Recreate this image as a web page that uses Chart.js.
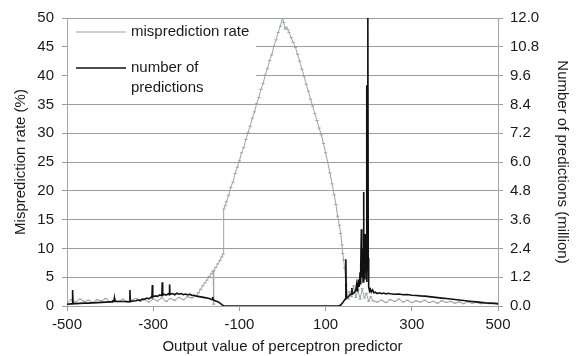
<!DOCTYPE html>
<html>
<head>
<meta charset="utf-8">
<title>Perceptron predictor output</title>
<script src="https://cdn.jsdelivr.net/npm/chart.js@4.4.0/dist/chart.umd.min.js"></script>
<style>
  html, body { margin: 0; padding: 0; background: #fff; }
  #wrap { width: 577px; height: 356px; position: relative; }
</style>
</head>
<body>
<div id="wrap"><canvas id="chart"></canvas></div>
<script>
// Output value of the perceptron vs. misprediction rate (%) and number of predictions (million)

const xTicks = [-500, -300, -100, 100, 300, 500];
const countTicks = [0, 1.2, 2.4, 3.6, 4.8, 6.0, 7.2, 8.4, 9.6, 10.8, 12.0];

const mispX = [
  -500, -490, -480, -470, -460, -450, -440, -430, -420, -410,
  -400, -390, -380, -370, -360, -350, -340, -330, -320, -310,
  -300, -290, -280, -270, -260, -250, -240, -230, -220, -210,
  -200, -195, -190, -185, -180, -175, -170, -165, -161, -160,
  -159, -155, -150, -145, -141, -138, -137, -136, -133, -130,
  -125, -120, -115, -110, -105, -100, -95, -90, -85, -80,
  -75, -70, -65, -60, -55, -50, -45, -40, -35, -30,
  -25, -20, -15, -10, -5, 0, 3, 6, 9, 12,
  15, 20, 25, 30, 35, 40, 45, 50, 55, 60,
  65, 70, 75, 80, 85, 90, 95, 100, 105, 110,
  115, 120, 124, 128, 132, 135, 138, 140, 142, 144,
  146, 148, 150, 153, 156, 160, 165, 170, 175, 180,
  185, 190, 195, 200, 205, 210, 220, 230, 240, 250,
  260, 270, 280, 290, 300, 310, 320, 330, 340, 350,
  360, 370, 380, 390, 400, 410, 420, 430, 440, 450,
  460, 470, 480, 490, 500
];
const mispRate = [
  0.5, 1.1, 0.7, 1.2, 0.8, 1.0, 0.6, 1.1, 0.9, 1.3,
  0.7, 1.0, 0.8, 1.2, 0.6, 1.0, 1.3, 0.8, 1.1, 0.7,
  1.2, 0.9, 1.4, 0.8, 1.3, 1.0, 1.5, 1.1, 1.6, 1.4,
  1.8, 2.3, 2.9, 3.5, 4.0, 4.5, 5.1, 5.6, 6.0, 0.3,
  6.2, 6.7, 7.3, 7.9, 8.5, 9.0, 15.0, 16.8, 17.4, 18.1,
  19.2, 20.6, 21.5, 23.0, 24.1, 25.2, 26.6, 27.5, 28.9, 30.1,
  31.2, 32.6, 33.7, 35.1, 36.2, 37.6, 38.6, 40.1, 41.2, 42.6,
  43.6, 45.1, 46.2, 47.5, 48.6, 50.0, 49.2, 48.1, 48.4, 48.0,
  47.5, 46.6, 45.8, 44.9, 43.7, 42.5, 41.1, 39.9, 38.5, 37.3,
  35.9, 34.7, 33.4, 32.2, 30.9, 29.7, 28.2, 26.6, 24.9, 23.1,
  21.2, 19.3, 17.6, 15.6, 14.0, 12.6, 10.6, 9.1, 8.0, 6.6,
  5.0, 3.6, 2.3, 1.2, 2.5, 1.6, 3.5, 1.5, 2.8, 1.2,
  3.0, 1.4, 2.2, 0.8, 1.6, 0.9, 0.7, 1.0, 0.6, 1.1,
  0.8, 1.2, 0.7, 1.0, 0.6, 0.9, 0.7, 1.0, 0.6, 0.8,
  0.5, 0.9, 0.6, 0.8, 0.5, 0.7, 0.4, 0.7, 0.5, 0.6,
  0.4, 0.6, 0.4, 0.5, 0.3
];

const countX = [
  -500, -490, -488, -487, -486, -480, -470, -460, -450, -440,
  -430, -420, -410, -400, -395, -394, -391, -390, -389, -380,
  -370, -360, -355, -354, -353, -350, -340, -335, -330, -325,
  -320, -315, -310, -305, -303, -302, -301, -295, -290, -285,
  -280, -279, -278, -275, -270, -265, -263, -262, -261, -255,
  -250, -245, -240, -235, -230, -225, -220, -215, -210, -205,
  -200, -190, -180, -170, -163, -162, -161, -155, -150, -145,
  -140, -136, -130, 130, 135, 140, 144, 146, 147, 148,
  152, 156, 160, 161, 162, 166, 170, 172, 174, 176,
  178, 180, 181, 182, 183, 184, 185, 186, 187, 188,
  189, 190, 191, 192, 193, 194, 195, 196, 197, 198,
  199, 200, 202, 204, 206, 209, 212, 215, 220, 225,
  230, 235, 240, 245, 250, 260, 270, 280, 290, 300,
  310, 320, 330, 340, 350, 360, 370, 380, 390, 400,
  410, 420, 430, 440, 450, 460, 470, 480, 490, 500
];
const countM = [
  0.07, 0.09, 0.09, 0.67, 0.10, 0.10, 0.11, 0.12, 0.12, 0.13,
  0.14, 0.15, 0.16, 0.17, 0.17, 0.21, 0.20, 0.33, 0.20, 0.19,
  0.19, 0.19, 0.18, 0.67, 0.18, 0.20, 0.22, 0.25, 0.24, 0.29,
  0.28, 0.33, 0.30, 0.37, 0.35, 0.87, 0.38, 0.42, 0.40, 0.46,
  0.43, 0.99, 0.45, 0.49, 0.45, 0.51, 0.47, 0.90, 0.48, 0.52,
  0.47, 0.53, 0.49, 0.52, 0.47, 0.50, 0.46, 0.49, 0.44, 0.45,
  0.41, 0.38, 0.35, 0.31, 0.26, 0.38, 0.25, 0.21, 0.18, 0.12,
  0.05, 0.00, 0.00, 0.00, 0.04, 0.15, 0.25, 0.30, 1.95, 0.32,
  0.38, 0.45, 0.52, 0.75, 0.50, 0.55, 0.65, 0.90, 0.60, 1.10,
  0.80, 1.40, 0.90, 1.60, 3.20, 1.20, 2.40, 1.80, 1.00, 4.75,
  1.30, 2.20, 1.10, 3.00, 1.40, 2.60, 1.00, 9.20, 1.50, 12.00,
  2.00, 0.80, 0.62, 0.70, 0.58, 0.67, 0.55, 0.58, 0.52, 0.55,
  0.51, 0.54, 0.50, 0.53, 0.51, 0.49, 0.50, 0.47, 0.48, 0.45,
  0.44, 0.42, 0.41, 0.39, 0.37, 0.35, 0.33, 0.31, 0.29, 0.27,
  0.25, 0.23, 0.21, 0.19, 0.17, 0.15, 0.13, 0.12, 0.11, 0.10
];

const font = { family: "'Liberation Sans', Arial, sans-serif", size: 15 };
const textColor = '#1a1a1a';
const gridColor = '#9c9c9c';
const axisColor = '#a6a6a6';
const mispColor = '#9aa49f';
const countColor = '#111111';

// legend sits inside the plot, top-left, on a white box over the gridlines
const insideLegend = {
  id: 'insideLegend',
  beforeDatasetsDraw(chart) {
    const ctx = chart.ctx;
    const a = chart.chartArea;
    ctx.save();
    ctx.fillStyle = '#fff';
    ctx.fillRect(a.left + 1, a.top + 1, 188, 82);

    ctx.lineWidth = 1.2;
    ctx.strokeStyle = mispColor;
    ctx.beginPath();
    ctx.moveTo(a.left + 9, a.top + 14);
    ctx.lineTo(a.left + 59, a.top + 14);
    ctx.stroke();

    ctx.lineWidth = 1.6;
    ctx.strokeStyle = countColor;
    ctx.beginPath();
    ctx.moveTo(a.left + 9, a.top + 50);
    ctx.lineTo(a.left + 59, a.top + 50);
    ctx.stroke();

    ctx.fillStyle = textColor;
    ctx.font = "15px 'Liberation Sans', Arial, sans-serif";
    ctx.textBaseline = 'middle';
    ctx.textAlign = 'left';
    ctx.fillText('misprediction rate', a.left + 64, a.top + 14);
    ctx.fillText('number of', a.left + 64, a.top + 50);
    ctx.fillText('predictions', a.left + 64, a.top + 70);
    ctx.restore();
  }
};

new Chart(document.getElementById('chart'), {
  type: 'line',
  data: {
    datasets: [
      {
        label: 'misprediction rate',
        data: mispX.map((x, i) => ({ x: x, y: mispRate[i] })),
        yAxisID: 'y',
        borderColor: mispColor,
        backgroundColor: mispColor,
        borderWidth: 1,
        pointStyle: 'line',
        pointRadius: 1.6,
        pointBorderWidth: 1,
        pointBorderColor: mispColor,
        tension: 0,
        order: 1
      },
      {
        label: 'number of predictions',
        data: countX.map((x, i) => ({ x: x, y: countM[i] })),
        yAxisID: 'y2',
        borderColor: countColor,
        backgroundColor: countColor,
        borderWidth: 1.6,
        pointRadius: 0,
        tension: 0,
        order: 0
      }
    ]
  },
  options: {
    responsive: true,
    maintainAspectRatio: false,
    animation: false,
    layout: { padding: { top: 18, left: 0, right: 0, bottom: 0 } },
    plugins: {
      legend: { display: false },
      tooltip: { enabled: false }
    },
    scales: {
      x: {
        type: 'linear',
        min: -500,
        max: 500,
        afterBuildTicks: function(scale) {
          scale.ticks = xTicks.map(v => ({ value: v }));
        },
        afterFit: function(scale) { scale.height = 50; },
        grid: { drawOnChartArea: false, drawTicks: true, tickLength: 5, color: gridColor },
        border: { color: axisColor },
        ticks: { font: font, color: textColor, padding: 5, maxRotation: 0, autoSkip: false },
        title: {
          display: true,
          text: 'Output value of perceptron predictor',
          font: font,
          color: textColor,
          padding: { top: 0, bottom: 0 }
        }
      },
      y: {
        position: 'left',
        min: 0,
        max: 50,
        afterFit: function(scale) { scale.width = 67; },
        grid: { color: gridColor, tickLength: 5 },
        border: { color: axisColor },
        ticks: { stepSize: 5, font: font, color: textColor, padding: 8 },
        title: {
          display: true,
          text: 'Misprediction rate (%)',
          font: font,
          color: textColor,
          padding: { top: 12, bottom: 0 }
        }
      },
      y2: {
        position: 'right',
        min: 0,
        max: 12,
        afterBuildTicks: function(scale) {
          scale.ticks = countTicks.map(v => ({ value: v }));
        },
        afterFit: function(scale) { scale.width = 79; },
        grid: { drawOnChartArea: false, tickLength: 5, color: gridColor },
        border: { color: axisColor },
        ticks: {
          font: font,
          color: textColor,
          padding: 7,
          autoSkip: false,
          callback: function(value) { return value.toFixed(1); }
        },
        title: {
          display: true,
          text: 'Number of predictions (million)',
          font: font,
          color: textColor,
          padding: { top: 6, bottom: 0 }
        }
      }
    }
  },
  plugins: [insideLegend]
});
</script>
</body>
</html>
